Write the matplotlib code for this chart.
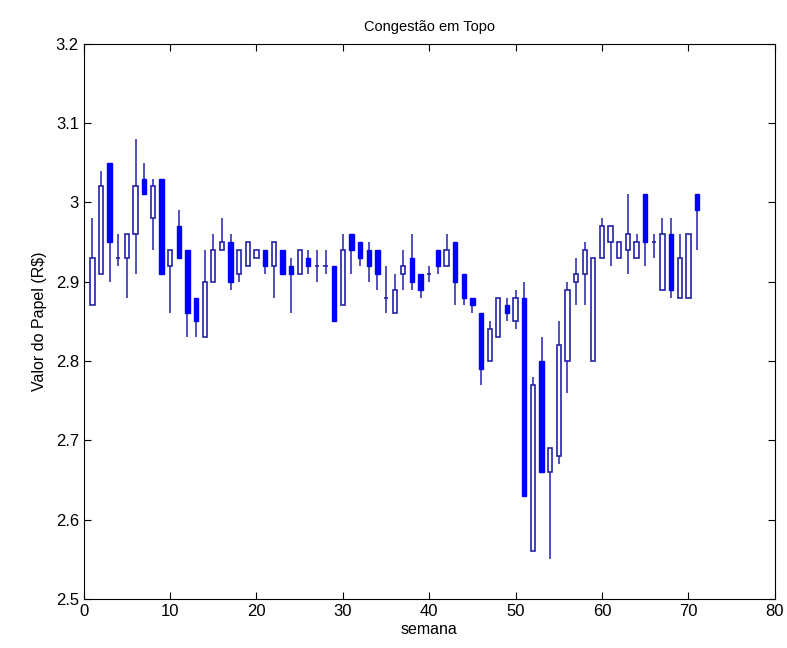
import numpy as np
import matplotlib.pyplot as plt

plt.rcParams['font.family'] = ['Liberation Sans', 'DejaVu Sans']

# weekly prices (R$)
semana = np.arange(1, 72)
abertura = [2.87, 2.91, 3.05, 2.93, 2.93, 2.96, 3.03, 2.98, 3.03, 2.92,
            2.97, 2.94, 2.88, 2.83, 2.90, 2.94, 2.95, 2.91, 2.92, 2.93,
            2.94, 2.92, 2.94, 2.92, 2.91, 2.93, 2.92, 2.92, 2.92, 2.87,
            2.96, 2.95, 2.94, 2.94, 2.88, 2.86, 2.91, 2.93, 2.91, 2.91,
            2.94, 2.92, 2.95, 2.91, 2.88, 2.86, 2.80, 2.83, 2.87, 2.85,
            2.88, 2.56, 2.80, 2.66, 2.68, 2.80, 2.90, 2.91, 2.80, 2.93,
            2.95, 2.93, 2.94, 2.93, 3.01, 2.95, 2.89, 2.96, 2.88, 2.88,
            3.01]
fechamento = [2.93, 3.02, 2.95, 2.93, 2.96, 3.02, 3.01, 3.02, 2.91, 2.94,
              2.93, 2.86, 2.85, 2.90, 2.94, 2.95, 2.90, 2.94, 2.95, 2.94,
              2.92, 2.95, 2.91, 2.91, 2.94, 2.92, 2.92, 2.92, 2.85, 2.94,
              2.94, 2.93, 2.92, 2.91, 2.88, 2.89, 2.92, 2.90, 2.89, 2.91,
              2.92, 2.94, 2.90, 2.88, 2.87, 2.79, 2.84, 2.88, 2.86, 2.88,
              2.63, 2.77, 2.66, 2.69, 2.82, 2.89, 2.91, 2.94, 2.93, 2.97,
              2.97, 2.95, 2.96, 2.95, 2.95, 2.95, 2.96, 2.89, 2.93, 2.96,
              2.99]
maxima = [2.98, 3.04, 3.05, 2.96, 2.96, 3.08, 3.05, 3.03, 3.03, 2.94,
          2.99, 2.94, 2.88, 2.94, 2.96, 2.98, 2.96, 2.94, 2.95, 2.94,
          2.94, 2.95, 2.94, 2.93, 2.94, 2.94, 2.94, 2.94, 2.92, 2.96,
          2.96, 2.95, 2.95, 2.94, 2.92, 2.91, 2.94, 2.96, 2.91, 2.92,
          2.94, 2.96, 2.95, 2.91, 2.88, 2.86, 2.85, 2.88, 2.88, 2.89,
          2.90, 2.78, 2.83, 2.69, 2.85, 2.90, 2.93, 2.95, 2.93, 2.98,
          2.97, 2.95, 3.01, 2.96, 3.01, 2.96, 2.98, 2.98, 2.96, 2.96,
          3.01]
minima = [2.87, 2.91, 2.90, 2.92, 2.88, 2.91, 3.01, 2.94, 2.91, 2.86,
          2.93, 2.83, 2.83, 2.83, 2.90, 2.94, 2.89, 2.90, 2.92, 2.93,
          2.91, 2.88, 2.91, 2.86, 2.91, 2.91, 2.90, 2.91, 2.85, 2.87,
          2.91, 2.92, 2.90, 2.89, 2.86, 2.86, 2.89, 2.89, 2.88, 2.90,
          2.91, 2.92, 2.87, 2.87, 2.86, 2.77, 2.80, 2.83, 2.85, 2.84,
          2.63, 2.56, 2.66, 2.55, 2.67, 2.76, 2.87, 2.87, 2.80, 2.93,
          2.92, 2.93, 2.91, 2.93, 2.92, 2.93, 2.89, 2.88, 2.88, 2.88,
          2.94]

azul = '#0000ff'
linha = '#2222aa'
largura = 0.5

fig = plt.figure(figsize=(7.87, 6.48), dpi=100)
ax = fig.add_axes([0.1064, 0.0756, 0.878, 0.857])

o = np.array(abertura)
c = np.array(fechamento)
topo = np.maximum(o, c)
base = np.minimum(o, c)

# wicks
ax.vlines(semana, minima, maxima, color=linha, linewidth=1.1, zorder=1)

# bodies: filled when closing below opening, hollow otherwise
caiu = c < o
subiu = c > o
ax.bar(semana[caiu], (topo - base)[caiu], bottom=base[caiu], width=largura,
       facecolor=azul, edgecolor=azul, linewidth=1, zorder=2)
ax.bar(semana[subiu], (topo - base)[subiu], bottom=base[subiu], width=largura,
       facecolor='white', edgecolor=linha, linewidth=1.2, zorder=2)

# doji
igual = c == o
ax.hlines(c[igual], semana[igual] - largura / 2, semana[igual] + largura / 2,
          color=linha, linewidth=1.2, zorder=2)

ax.set_xlim(0, 80)
ax.set_ylim(2.5, 3.2)
ax.set_xticks(np.arange(0, 81, 10))
ax.set_yticks([2.5, 2.6, 2.7, 2.8, 2.9, 3.0, 3.1, 3.2])
ax.set_yticklabels(['2.5', '2.6', '2.7', '2.8', '2.9', '3', '3.1', '3.2'])
ax.tick_params(direction='in', top=True, right=True, labelsize=12, length=5)
for s in ax.spines.values():
    s.set_linewidth(0.8)

ax.set_title('Congestão em Topo', fontsize=10.5, pad=9)
ax.set_xlabel('semana', fontsize=11.5, labelpad=2)
ax.set_ylabel('Valor do Papel (R$)', fontsize=11.5, labelpad=6)

fig.savefig('out.png', dpi=100)
